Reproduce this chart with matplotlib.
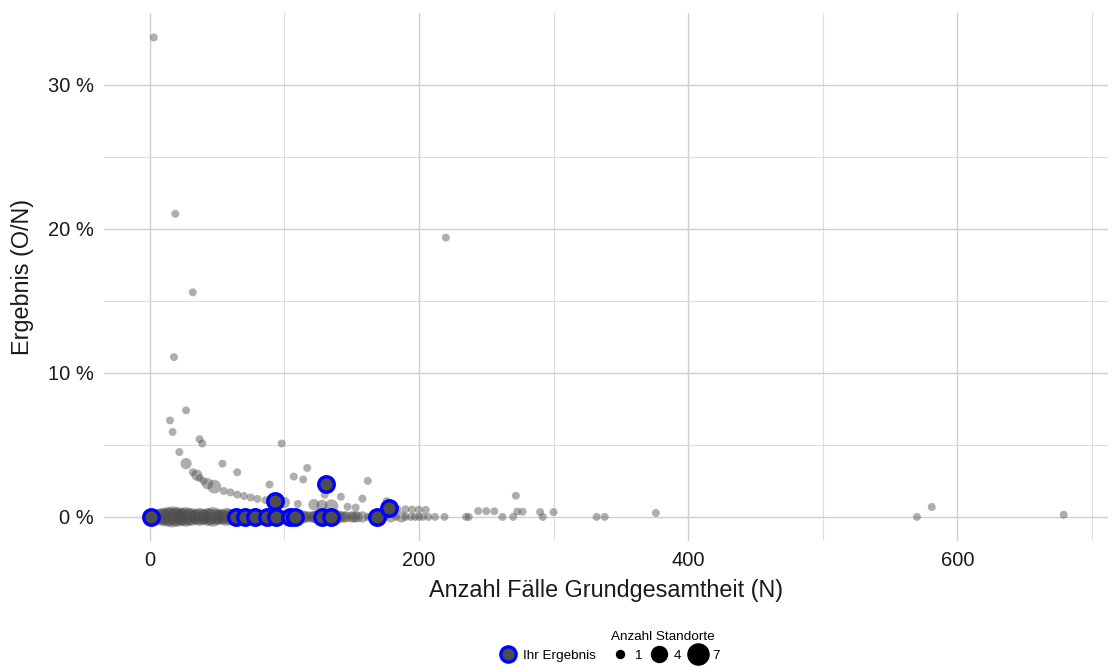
#!/usr/bin/env python3
# -*- coding: utf-8 -*-
import numpy as np
import matplotlib
matplotlib.use("Agg")
import matplotlib.pyplot as plt
from matplotlib.lines import Line2D

plt.rcParams['font.family'] = ['Liberation Sans', 'DejaVu Sans']

# Standorte mit Ergebnis 0 % : Fallzahl N und Anzahl Standorte
null_n = [1, 3, 5, 7, 9, 11, 13, 15, 17, 19, 21, 23, 25, 27, 29, 31, 33, 35, 37, 39,
          41, 43, 45, 47, 49, 51, 53, 55, 57, 59, 61, 63, 66, 68, 70, 73, 75, 78, 80, 83,
          86, 88, 91, 93, 95, 98, 101, 103, 105, 108, 110, 113, 115, 117, 120, 122, 124,
          127, 131, 133, 135, 139, 142, 144, 146, 150, 152, 154, 158, 162, 166, 169, 172,
          175, 179, 183, 187, 190, 194, 197, 200, 203, 207, 212, 219, 235, 237, 262, 270,
          292, 332, 338, 570]
null_cnt = [3, 2, 3, 4, 5, 4, 6, 5, 7, 5, 6, 4, 5, 6, 4, 5, 3, 4, 5, 4,
            3, 5, 4, 6, 4, 3, 4, 3, 5, 4, 3, 4, 3, 4, 3, 3, 4, 2, 3, 3,
            2, 3, 2, 2, 3, 2, 3, 2, 2, 2, 2, 3, 2, 2, 2, 2, 3,
            2, 2, 2, 2, 3, 2, 2, 2, 2, 2, 2, 2, 1, 2, 2, 1,
            1, 2, 1, 2, 1, 1, 1, 1, 1, 1, 1, 1, 1, 1, 1, 1,
            1, 1, 1, 1]

# Standorte mit Ergebnis > 0 %
pos_n = [3, 19, 32, 18, 220, 15, 27, 17, 22, 37, 39, 27, 32, 35, 37, 40, 43, 48, 54, 55,
         60, 65, 65, 70, 75, 80, 86, 89, 98, 100, 107, 110, 114, 117, 122, 128, 130, 135,
         142, 147, 153, 158, 162, 176, 184, 190, 195, 200, 205, 244, 250, 256, 272, 273,
         277, 290, 300, 376, 581, 679]
pos_rate = [33.3, 21.05, 15.6, 11.1, 19.4, 6.7, 7.4, 5.9, 4.5, 5.4, 5.1, 3.7, 3.1, 2.9, 2.7,
            2.5, 2.3, 2.1, 3.7, 1.8, 1.7, 3.1, 1.55, 1.45, 1.35, 1.25, 1.16, 2.25, 5.1, 1.0,
            2.8, 0.9, 2.6, 3.4, 0.85, 0.8, 1.54, 0.74, 1.4, 0.7, 0.65, 1.27, 2.5, 1.1, 0.55,
            0.53, 0.51, 0.5, 0.49, 0.41, 0.4, 0.39, 1.47, 0.37, 0.36, 0.34, 0.33, 0.27, 0.69,
            0.15]
pos_cnt = [1, 1, 1, 1, 1, 1, 1, 1, 1, 1, 1, 2, 1, 2, 1, 1, 2, 3, 1, 1,
           1, 1, 1, 1, 1, 1, 1, 1, 1, 2, 1, 1, 1, 1, 2, 2, 1, 3,
           1, 1, 1, 1, 1, 1, 1, 1, 1, 1, 1, 1, 1, 1, 1, 1,
           1, 1, 1, 1, 1, 1]

# Ihr Ergebnis
ihr_n = [1, 64, 71, 78, 87, 94, 104, 108, 128, 135, 169, 178, 93, 131]
ihr_rate = [0, 0, 0, 0, 0, 0, 0, 0, 0, 0, 0, 0.65, 1.08, 2.3]

grey = '#4d4d4d'
s1 = 33  # Flaeche fuer 1 Standort

fig = plt.figure(figsize=(11.12, 6.67), dpi=100)
ax = fig.add_axes([0.0935, 0.189, 0.903, 0.7915])

all_n = null_n + pos_n
all_rate = [0] * len(null_n) + pos_rate
all_cnt = null_cnt + pos_cnt
ax.scatter(all_n, all_rate, s=np.array(all_cnt) * s1, color=grey, alpha=0.45,
           edgecolors='none', zorder=3)
ax.scatter(ihr_n, ihr_rate, s=125, color=grey, edgecolors='#0000ff',
           linewidths=2.4, zorder=4)

ax.set_xlim(-34, 712)
ax.set_ylim(-1.67, 35.0)
ax.set_xticks([0, 200, 400, 600])
ax.set_xticks([100, 300, 500, 700], minor=True)
ax.set_yticks([0, 10, 20, 30])
ax.set_yticks([5, 15, 25], minor=True)
ax.set_yticklabels(['0 %', '10 %', '20 %', '30 %'])
ax.grid(True, which='major', color='#cfcfcf', linewidth=1.0, zorder=0)
ax.grid(True, which='minor', color='#dedede', linewidth=0.8, zorder=0)
ax.set_axisbelow(True)
for sp in ax.spines.values():
    sp.set_visible(False)
ax.tick_params(which='both', length=0, labelsize=14.5, colors='#1a1a1a', pad=7)
ax.set_xlabel('Anzahl Fälle Grundgesamtheit (N)', fontsize=16.8, color='#1a1a1a', labelpad=7)
ax.set_ylabel('Ergebnis (O/N)', fontsize=16.8, color='#1a1a1a', labelpad=10)

# Legenden unten
h_ihr = Line2D([], [], marker='o', linestyle='none', markersize=11,
               markerfacecolor=grey, markeredgecolor='#0000ff', markeredgewidth=2.4)
leg1 = fig.legend([h_ihr], ['Ihr Ergebnis'], loc='center', bbox_to_anchor=(0.4905, 0.0165),
                  frameon=False, fontsize=9.7, handletextpad=0.1, borderpad=0)
sizes = [1, 4, 7]
h_size = [Line2D([], [], marker='o', linestyle='none', color='black',
                 markersize=np.sqrt(k * s1)) for k in sizes]
leg2 = fig.legend(h_size, [str(k) for k in sizes], loc='center', bbox_to_anchor=(0.5965, 0.031),
                  frameon=False, fontsize=9.7, ncol=3, handletextpad=0.05,
                  columnspacing=0.3, title='Anzahl Standorte', title_fontsize=9.7, borderpad=0)

fig.savefig('out.png', dpi=100)
